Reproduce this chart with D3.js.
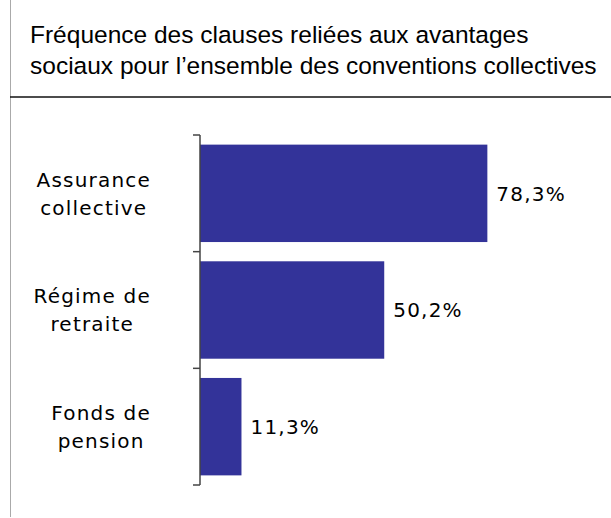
<!DOCTYPE html>
<html>
<head>
<meta charset="utf-8">
<script src="https://cdn.jsdelivr.net/npm/d3@7"></script>
<style>
  body { margin: 0; background: #fff; }
  svg { display: block; }
</style>
</head>
<body>
<div id="chart"></div>
<script>
var titleLines = ["Fréquence des clauses reliées aux avantages",
                  "sociaux pour l\u2019ensemble des conventions collectives"];
var categories = [["Assurance", "collective"], ["Régime de", "retraite"], ["Fonds de", "pension"]];
var values = [78.3, 50.2, 11.3];

var width = 611, height = 518;
var x0 = 200, plotTop = 135, plotBottom = 485;

var svg = d3.select("#chart").append("svg")
    .attr("width", width)
    .attr("height", height);

// frame lines
svg.append("line")
    .attr("x1", 10.5).attr("x2", 10.5).attr("y1", 0).attr("y2", 517)
    .attr("stroke", "#aaa").attr("stroke-width", 1);
svg.append("line")
    .attr("x1", 10).attr("x2", width).attr("y1", 97).attr("y2", 97)
    .attr("stroke", "#111").attr("stroke-width", 1.5);

// title
svg.append("g").selectAll("text")
    .data(titleLines)
    .enter().append("text")
    .attr("x", 30)
    .attr("y", function(d, i) { return 43 + i * 31; })
    .attr("font-family", "Liberation Sans, Arial, sans-serif")
    .attr("font-size", "24.5px")
    .attr("fill", "#000")
    .text(function(d) { return d; });

var x = d3.scaleLinear().domain([0, 100]).range([x0, x0 + 367]);
var y = d3.scaleBand()
    .domain(d3.range(categories.length))
    .range([plotTop, plotBottom])
    .paddingInner(0.165)
    .paddingOuter(0.0825);

svg.selectAll(".bar")
    .data(values)
    .enter().append("rect")
    .attr("class", "bar")
    .attr("x", x(0))
    .attr("y", function(d, i) { return y(i); })
    .attr("width", function(d) { return x(d) - x(0); })
    .attr("height", y.bandwidth())
    .attr("fill", "#333399");

// axis with ticks between categories
var band = (plotBottom - plotTop) / categories.length;
var axisG = svg.append("g").attr("stroke", "#444").attr("stroke-width", 1.5);
axisG.append("line")
    .attr("x1", x0).attr("x2", x0).attr("y1", plotTop).attr("y2", plotBottom);
axisG.selectAll(".tick")
    .data(d3.range(categories.length + 1))
    .enter().append("line")
    .attr("x1", x0 - 7).attr("x2", x0)
    .attr("y1", function(d) { return plotTop + d * band; })
    .attr("y2", function(d) { return plotTop + d * band; });

// value labels
svg.selectAll(".val")
    .data(values)
    .enter().append("text")
    .attr("class", "val")
    .attr("x", function(d) { return x(d) + 9; })
    .attr("y", function(d, i) { return y(i) + y.bandwidth() / 2; })
    .attr("dy", "0.36em")
    .attr("font-family", "DejaVu Sans, Verdana, sans-serif")
    .attr("font-size", "20px")
    .attr("letter-spacing", "1.2px")
    .attr("fill", "#000")
    .text(function(d) { return d3.format(".1f")(d).replace(".", ",") + "%"; });

// category labels: lines centred on each other, widest line right-aligned
var labelRight = 151;
categories.forEach(function(lines, i) {
  var cy = y(i) + y.bandwidth() / 2;
  var g = svg.append("g");
  var t = g.selectAll("text")
      .data(lines)
      .enter().append("text")
      .attr("y", function(d, j) { return cy + (j - (lines.length - 1) / 2) * 28; })
      .attr("dy", "0.36em")
      .attr("text-anchor", "middle")
      .attr("font-family", "DejaVu Sans, Verdana, sans-serif")
      .attr("font-size", "20px")
      .attr("letter-spacing", "1.2px")
      .attr("fill", "#000")
      .text(function(d) { return d; });
  var maxW = d3.max(t.nodes(), function(n) { return n.getComputedTextLength(); });
  t.attr("x", labelRight - maxW / 2);
});
</script>
</body>
</html>
